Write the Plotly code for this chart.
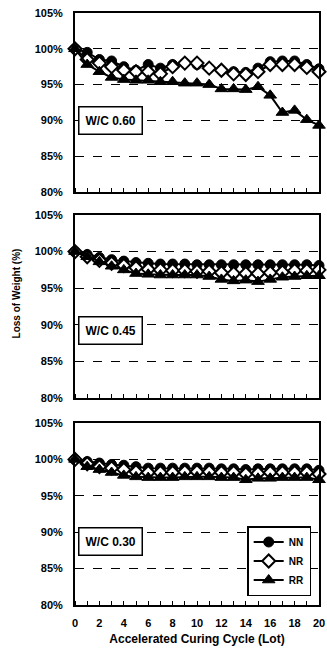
import plotly.graph_objects as go

cycles = list(range(0, 21))
x_tick_vals = [0, 2, 4, 6, 8, 10, 12, 14, 16, 18, 20]
y_tick_vals = [80, 85, 90, 95, 100, 105]
y_tick_text = ["80%", "85%", "90%", "95%", "100%", "105%"]
series_names = ["NN", "NR", "RR"]
panel_labels = ["W/C 0.60", "W/C 0.45", "W/C 0.30"]

wc060_nn = [100, 99.5, 98.5, 98.3, 97.5, 97.0, 97.8, 97.3, 97.8, 98.0, 97.8, 97.3, 97.0, 96.8, 96.7, 97.3, 98.2, 98.3, 98.3, 97.8, 97.2]
wc060_nr = [100, 98.5, 98.0, 97.5, 97.0, 96.8, 96.8, 96.5, 97.5, 98.0, 98.0, 97.3, 97.0, 96.5, 96.4, 96.8, 97.8, 97.8, 97.8, 97.4, 96.8]
wc060_rr = [100, 97.8, 96.8, 96.0, 95.7, 95.6, 95.6, 95.4, 95.4, 95.2, 95.2, 95.0, 94.4, 94.4, 94.3, 94.7, 93.5, 91.1, 91.4, 90.1, 89.3]

wc045_nn = [100, 99.6, 99.2, 98.9, 98.7, 98.5, 98.4, 98.3, 98.3, 98.3, 98.2, 98.2, 98.2, 98.2, 98.2, 98.2, 98.2, 98.2, 98.2, 98.2, 98.1]
wc045_nr = [100, 99.3, 98.8, 98.4, 98.1, 97.8, 97.6, 97.5, 97.4, 97.4, 97.3, 97.3, 97.1, 97.0, 97.0, 97.0, 97.1, 97.2, 97.4, 97.4, 97.5]
wc045_rr = [100, 99.3, 98.6, 98.0, 97.5, 97.0, 96.9, 96.8, 96.8, 96.8, 96.8, 96.6, 96.2, 96.0, 96.1, 95.9, 96.2, 96.5, 96.6, 96.7, 96.7]

wc030_nn = [100, 99.7, 99.5, 99.3, 99.2, 99.0, 98.8, 98.8, 98.8, 98.8, 98.8, 98.8, 98.7, 98.7, 98.6, 98.7, 98.7, 98.7, 98.7, 98.7, 98.5]
wc030_nr = [100, 99.4, 99.0, 98.8, 98.6, 98.3, 98.2, 98.2, 98.2, 98.3, 98.3, 98.3, 98.2, 98.2, 98.0, 98.1, 98.2, 98.2, 98.2, 98.2, 98.0]
wc030_rr = [100, 99.0, 98.6, 98.2, 97.8, 97.6, 97.5, 97.5, 97.5, 97.6, 97.6, 97.6, 97.5, 97.5, 97.2, 97.4, 97.4, 97.5, 97.5, 97.5, 97.2]

panels = [
    (wc060_nn, wc060_nr, wc060_rr),
    (wc045_nn, wc045_nr, wc045_rr),
    (wc030_nn, wc030_nr, wc030_rr),
]

# pixel layout
W, H = 327, 655
L_M, R_M = 75, 2
top_m, bot_m = 13, 50
plot_w = W - L_M - R_M
plot_h = H - top_m - bot_m
panel_px = [(13, 192), (215, 398), (423, 605)]  # top, bottom in px


def dom(t, b):
    return [(H - bot_m - b) / plot_h, (H - bot_m - t) / plot_h]


FONT = "Liberation Sans"
styles = [
    dict(symbol="circle", size=10, color="black", line=dict(color="black", width=1)),
    dict(symbol="diamond", size=10, color="white", line=dict(color="black", width=2)),
    dict(symbol="triangle-up", size=11, color="black", line=dict(color="black", width=1)),
]

fig = go.Figure()
for i, vals in enumerate(panels):
    ax = "" if i == 0 else str(i + 1)
    for j, yv in enumerate(vals):
        fig.add_trace(go.Scatter(
            x=cycles, y=yv, mode="lines+markers", name=series_names[j],
            line=dict(color="black", width=2), marker=styles[j],
            xaxis="x" + ax, yaxis="y" + ax, showlegend=(i == 2),
            cliponaxis=False,
        ))

layout = dict(
    width=W, height=H,
    margin=dict(l=L_M, r=R_M, t=top_m, b=bot_m),
    paper_bgcolor="white", plot_bgcolor="white",
    font=dict(family=FONT, color="black", size=10),
    showlegend=True,
    legend=dict(
        x=(317 - L_M) / plot_w, xanchor="right",
        y=(H - bot_m - 596) / plot_h, yanchor="bottom",
        bgcolor="white", bordercolor="black", borderwidth=1.5,
        font=dict(family=FONT, size=10, weight="bold"),
        tracegroupgap=0, itemwidth=30,
    ),
)
for i in range(3):
    ax = "" if i == 0 else str(i + 1)
    t, b = panel_px[i]
    layout["xaxis" + ax] = dict(
        domain=[0, 1], range=[0, 20], anchor="y" + ax,
        showline=True, linecolor="black", linewidth=2, mirror=True,
        showgrid=False, zeroline=False,
        tickvals=x_tick_vals, showticklabels=(i == 2),
        ticks="", ticklabeloverflow="allow", ticklabelstandoff=7,
        tickfont=dict(family=FONT, size=11, weight="bold"),
        minor=dict(dtick=1, ticks="inside", ticklen=4, tickcolor="black", tickwidth=1),
    )
    layout["yaxis" + ax] = dict(
        domain=dom(t, b), range=[80, 105], anchor="x" + ax,
        showline=True, linecolor="black", linewidth=2, mirror=True,
        tickmode="array", tickvals=y_tick_vals, ticktext=y_tick_text,
        tickfont=dict(family=FONT, size=11, weight="bold"),
        ticklabelstandoff=8,
        showgrid=True, gridcolor="black", griddash="dash", gridwidth=1,
        zeroline=False, ticks="",
    )
layout["xaxis3"]["title"] = dict(
    text="Accelerated Curing Cycle (Lot)", standoff=6,
    font=dict(family=FONT, size=12, weight="bold"))

annotations = []
label_y = [90, 89.2, 88.7]
for i in range(3):
    ax = "" if i == 0 else str(i + 1)
    annotations.append(dict(
        x=0.25, y=label_y[i], xref="x" + ax, yref="y" + ax,
        xanchor="left", yanchor="middle", text=panel_labels[i], showarrow=False,
        font=dict(family=FONT, size=12, weight="bold"),
        bgcolor="white", bordercolor="black", borderwidth=1.5, borderpad=6,
    ))
annotations.append(dict(
    x=(15 - L_M) / plot_w, y=(H - bot_m - 293) / plot_h,
    xref="paper", yref="paper", text="Loss of Weight (%)",
    xanchor="center", yanchor="middle",
    showarrow=False, textangle=-90,
    font=dict(family=FONT, size=10, weight="bold"),
))
layout["annotations"] = annotations
fig.update_layout(**layout)

fig.write_html(
    "out.html",
    config={"displayModeBar": False},
    post_script="document.body.style.margin='0px';document.body.style.overflow='hidden';",
)
